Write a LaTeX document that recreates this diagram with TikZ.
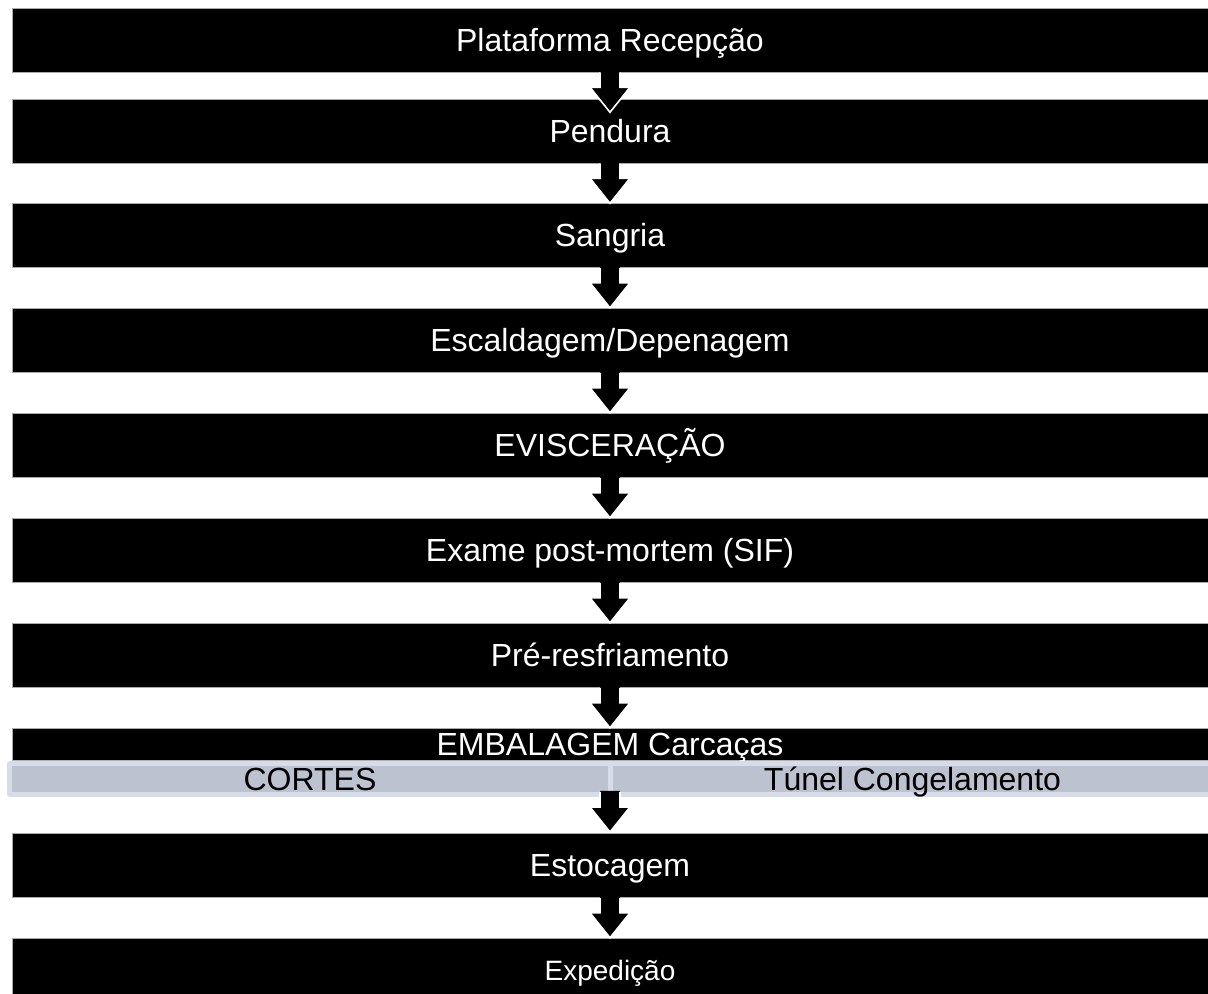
\documentclass[tikz,border=0pt]{standalone}
\usepackage{fontspec}
\setmainfont{Liberation Sans}
\usetikzlibrary{calc}
\definecolor{rowfill}{RGB}{188,194,208}
\definecolor{rowedge}{RGB}{214,220,232}
\definecolor{boxedge}{RGB}{170,170,170}
\tikzset{
  stepbox/.style={rectangle, fill=black, draw=boxedge, line width=0.5pt, inner sep=0pt,
    minimum width=897pt, minimum height=48pt, text=white, text height=17.2pt, text depth=0pt,
    font=\fontsize{24}{28}\selectfont},
  thinbox/.style={stepbox, minimum height=24pt},
  cellbox/.style={rectangle, fill=rowfill, inner sep=0pt, minimum height=19.5pt,
    text=black, text height=17.2pt, text depth=0pt, font=\fontsize{24}{28}\selectfont},
}
\newcommand{\flowarrow}[2]{%
  \fill[black] ($(#1)+(-10,-1)$) -- ++(0,16) -- ++(-10,0) -- ($(#1)+(0,#2)$) -- ($(#1)+(20,15)$) -- ++(-10,0) -- ++(0,-16) -- cycle;
  \draw[white, line width=1.2pt] ($(#1)+(-10,0)$) -- ++(0,15) -- ++(-10,0) -- ($(#1)+(0,#2)$) -- ($(#1)+(20,15)$) -- ++(-10,0) -- ++(0,-15);
}
\begin{document}
\begin{tikzpicture}[x=0.75pt, y=-0.75pt]
\useasboundingbox (0,0) rectangle (1208,994);
\begin{scope}
\clip (0,0) rectangle (1208,994);
\node[stepbox] (b1) at (610,40) {Plataforma Recepção};
\node[stepbox] (b2) at (610,131) {Pendura};
\node[stepbox] (b3) at (610,235.5) {Sangria};
\node[stepbox] (b4) at (610,340.5) {Escaldagem/Depenagem};
\node[stepbox] (b5) at (610,445.5) {EVISCERAÇÃO};
\node[stepbox] (b6) at (610,550.5) {Exame post-mortem (SIF)};
\node[stepbox] (b7) at (610,655.5) {Pré-resfriamento};
\node[thinbox] (b8) at (610,744) {EMBALAGEM Carcaças};
% split row
\fill[rowedge, rounded corners=2pt] (7,761) rectangle (1214,797);
\coordinate (rowbot) at (610,792);
\node[cellbox, minimum width=447pt] (c1) at (310,779) {CORTES};
\node[cellbox, minimum width=449.25pt] (c2) at (912.5,779) {Túnel Congelamento};
\node[stepbox] (b9) at (610,865.5) {Estocagem};
\node[stepbox, text height=15pt, font=\fontsize{21}{25}\selectfont] (b10) at (610,970) {Expedição};
% arrows
\flowarrow{b1.south}{40}
\flowarrow{b2.south}{40}
\flowarrow{b3.south}{40}
\flowarrow{b4.south}{40}
\flowarrow{b5.south}{40}
\flowarrow{b6.south}{40}
\flowarrow{b7.south}{40}
\flowarrow{rowbot}{40}
\flowarrow{b9.south}{40}
\end{scope}
\end{tikzpicture}
\end{document}
